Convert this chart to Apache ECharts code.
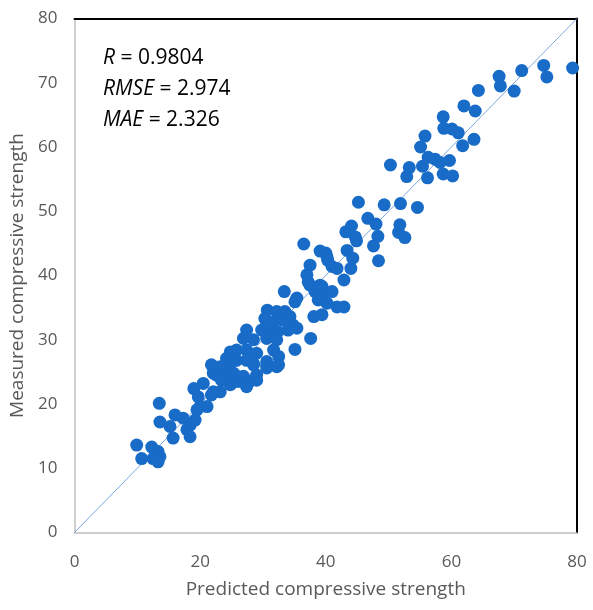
<!DOCTYPE HTML>
<html lang="en">
<head>
    <meta charset="utf-8">
    <title>Predicted vs measured compressive strength</title>
    <style>
        html, body { margin: 0; padding: 0; background: #fff; }
        #myChart { width: 593px; height: 610px; }
    </style>
</head>
<body>
<div id="myChart"></div>
<script src="https://cdn.jsdelivr.net/npm/echarts@6/dist/echarts.min.js"></script>
<script>
    // values (predicted = x, measured = y)
    var predicted = [
        79.3, 74.7, 75.2, 71.2, 67.6, 67.8, 70.0, 64.3, 62.0, 63.8, 58.7, 58.8, 60.1, 61.1,
        63.6, 61.8, 55.8, 55.1, 56.3, 57.4, 59.7, 58.2, 55.4, 53.3, 52.9, 56.2, 58.7, 60.2,
        50.3, 45.2, 49.3, 51.9, 54.6, 46.7, 48.0, 44.1, 43.2, 51.8, 51.6, 52.6, 48.3, 44.7,
        44.9, 47.6, 48.4, 36.5, 39.1, 40.0, 43.4, 44.3, 40.3, 37.5, 41.0, 41.8, 44.0, 37.0,
        42.9, 37.5, 39.1, 38.3, 39.6, 41.0, 35.4, 40.2,
        33.4, 37.2, 39.4, 38.8, 40.2, 41.8, 42.9, 38.1, 39.4, 35.1, 30.7, 32.2, 33.5, 34.3,
        30.3, 31.7, 33.2, 34.8, 29.8, 31.1, 32.4, 34.0, 35.4, 37.6, 35.1, 27.4, 26.9, 28.5,
        30.6, 32.2, 31.7, 32.5, 25.8, 24.8, 27.4, 29.0, 24.2, 25.8, 27.4, 28.5, 30.6, 32.2,
        21.8, 22.1, 23.7, 25.3, 26.9, 29.0, 23.4, 25.0, 27.9, 20.5,
        23.2, 24.8, 28.5, 30.6, 32.5, 22.6, 24.2, 25.6, 30.6, 24.8, 27.4, 29.0, 26.1, 22.1,
        21.8, 23.2, 19.0, 19.7, 13.5, 20.0, 21.1, 19.5, 16.0, 17.3, 19.2, 18.4, 13.6, 15.2,
        17.9, 18.4, 15.7, 9.9, 12.3, 13.3, 10.7, 12.5, 13.6, 13.3
    ];
    var measured = [
        72.3, 72.7, 70.9, 71.9, 71.0, 69.5, 68.7, 68.8, 66.4, 65.6, 64.7, 62.9, 62.8, 62.2,
        61.2, 60.2, 61.7, 60.0, 58.4, 58.1, 57.9, 57.6, 57.0, 56.8, 55.4, 55.2, 55.8, 55.5,
        57.2, 51.4, 51.0, 51.2, 50.6, 48.9, 48.0, 47.7, 46.8, 47.9, 46.7, 45.9, 46.1, 46.0,
        45.4, 44.6, 42.3, 44.9, 43.8, 43.5, 43.9, 42.7, 42.4, 41.6, 41.4, 41.1, 41.1, 40.1,
        39.3, 38.5, 38.5, 37.5, 37.2, 37.5, 36.5, 42.9,
        37.5, 39.0, 38.3, 36.2, 35.7, 35.1, 35.1, 33.6, 33.9, 35.9, 34.6, 34.4, 34.4, 33.6,
        33.3, 32.8, 33.1, 32.3, 31.5, 31.5, 31.3, 31.5, 31.8, 30.2, 28.5, 31.5, 30.2, 30.0,
        30.2, 30.0, 28.4, 27.4, 28.4, 28.1, 28.4, 27.9, 27.1, 26.8, 26.8, 26.1, 26.6, 25.8,
        26.1, 24.8, 25.3, 24.8, 24.3, 24.5, 23.7, 23.2, 23.5, 23.2,
        25.8, 26.3, 26.3, 26.1, 26.1, 24.5, 24.8, 24.5, 25.6, 23.0, 22.7, 23.7, 23.5, 21.9,
        21.4, 21.9, 22.4, 21.1, 20.1, 19.6, 19.6, 19.1, 18.3, 17.8, 17.5, 16.7, 17.2, 16.5,
        16.0, 14.9, 14.7, 13.6, 13.3, 12.6, 11.5, 11.5, 11.8, 11.0
    ];
    var xTicks = [0, 20, 40, 60, 80];
    var yTicks = [0, 10, 20, 30, 40, 50, 60, 70, 80];
    var stats = [['R', '0.9804'], ['RMSE', '2.974'], ['MAE', '2.326']];

    chartFn();
    function chartFn() {
        var myChart = echarts.init(document.getElementById('myChart'));
        var points = [];
        for (var i = 0; i < predicted.length; i++) {
            points.push([predicted[i], measured[i]]);
        }
        var font = 'Open Sans';
        var statText = stats.map(function (s) {
            return '{i|' + s[0] + '}{n| = ' + s[1] + '}';
        }).join('\n');

        var option = {
            animation: false,
            textStyle: { fontFamily: font },
            grid: { left: 74.5, right: 16, top: 18.5, bottom: 77.5 },
            xAxis: [{
                type: 'value',
                min: xTicks[0],
                max: xTicks[xTicks.length - 1],
                interval: xTicks[1] - xTicks[0],
                name: 'Predicted compressive strength',
                nameLocation: 'middle',
                nameGap: 48,
                nameTextStyle: { color: '#595959', fontSize: 19, fontFamily: font },
                splitLine: { show: false },
                axisTick: { show: false },
                axisLine: { lineStyle: { color: '#bfbfbf', width: 1.5 } },
                axisLabel: { color: '#595959', fontSize: 17, margin: 21, fontFamily: font }
            }, {
                // black frame on top
                type: 'value', position: 'top', min: 0, max: 80,
                axisLine: { show: true, onZero: false, lineStyle: { color: '#000', width: 2 } },
                axisTick: { show: false }, axisLabel: { show: false }, splitLine: { show: false }
            }],
            yAxis: [{
                type: 'value',
                min: yTicks[0],
                max: yTicks[yTicks.length - 1],
                interval: yTicks[1] - yTicks[0],
                name: 'Measured compressive strength',
                nameLocation: 'middle',
                nameGap: 45,
                nameTextStyle: { color: '#595959', fontSize: 19, fontFamily: font },
                splitLine: { show: false },
                axisTick: { show: false },
                axisLine: { lineStyle: { color: '#bfbfbf', width: 1.5 } },
                axisLabel: { color: '#595959', fontSize: 17, margin: 17, fontFamily: font }
            }, {
                // black frame on the right
                type: 'value', position: 'right', min: 0, max: 80,
                axisLine: { show: true, onZero: false, lineStyle: { color: '#000', width: 2 } },
                axisTick: { show: false }, axisLabel: { show: false }, splitLine: { show: false }
            }],
            graphic: [{
                type: 'text',
                left: 103,
                top: 48,
                style: {
                    text: statText,
                    rich: {
                        i: { fontStyle: 'italic', fontSize: 21, fontFamily: font, fill: '#000', lineHeight: 31 },
                        n: { fontSize: 21, fontFamily: font, fill: '#000', lineHeight: 31 }
                    }
                }
            }],
            series: [{
                name: 'y = x',
                type: 'line',
                data: [[xTicks[0], yTicks[0]], [xTicks[xTicks.length - 1], yTicks[yTicks.length - 1]]],
                symbol: 'none',
                lineStyle: { color: '#7aa6e0', width: 1 },
                z: 1
            }, {
                name: 'samples',
                type: 'scatter',
                data: points,
                symbolSize: 13,
                itemStyle: { color: '#186cc8', opacity: 1 },
                z: 2
            }]
        };
        myChart.setOption(option);
        window.addEventListener('resize', function () {
            myChart.resize();
        });
    }
</script>
</body>
</html>
